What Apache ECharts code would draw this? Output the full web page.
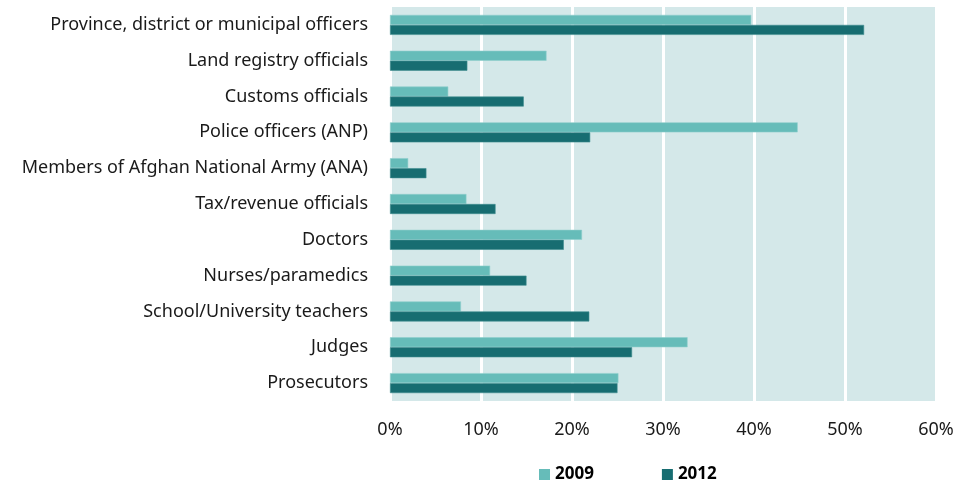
<!DOCTYPE html>
<html>
<head>
<meta charset="utf-8">
<script src="https://cdn.jsdelivr.net/npm/echarts@6/dist/echarts.min.js"></script>
<style>
  html, body { margin: 0; padding: 0; background: #fff; }
  #chart { width: 957px; height: 484px; }
</style>
</head>
<body>
<div id="chart"></div>
<script>
// categories top to bottom as in the picture
const categories = [
  'Province, district or municipal officers',
  'Land registry officials',
  'Customs officials',
  'Police officers (ANP)',
  'Members of Afghan National Army (ANA)',
  'Tax/revenue officials',
  'Doctors',
  'Nurses/paramedics',
  'School/University teachers',
  'Judges',
  'Prosecutors'
]
const values2009 = [39.7, 17.2, 6.4, 44.8, 2.0, 8.4, 21.1, 11.0, 7.8, 32.7, 25.1]
const values2012 = [52.1, 8.5, 14.7, 22.0, 4.0, 11.6, 19.1, 15.0, 21.9, 26.6, 25.0]
const xTicks = [0, 10, 20, 30, 40, 50, 60]

const font = 'Noto Sans'
const chart = echarts.init(document.getElementById('chart'))
chart.setOption({
  animation: false,
  color: ['#66bcb9', '#176d71'],
  legend: {
    top: 461,
    left: 534,
    itemWidth: 11,
    itemHeight: 11,
    itemGap: 68,
    icon: 'rect',
    itemStyle: { borderWidth: 0 },
    textStyle: { fontFamily: font, fontSize: 17, fontWeight: 'bold', color: '#000' },
    data: ['2009', '2012']
  },
  grid: { left: 390, right: 21, top: 7, bottom: 83, containLabel: false, show: true, backgroundColor: '#d4e8e9', borderWidth: 0 },
  xAxis: {
    type: 'value',
    min: xTicks[0],
    max: xTicks[xTicks.length - 1],
    interval: 10,
    axisLine: { show: false },
    axisTick: { show: false },
    splitLine: { show: true, lineStyle: { color: '#ffffff', width: 3 } },
    axisLabel: { formatter: v => v + '%', margin: 20, fontFamily: font, fontSize: 18, color: '#1a1a1a' }
  },
  yAxis: {
    type: 'category',
    inverse: true,
    data: categories,
    axisLine: { show: false },
    axisTick: { show: false },
    axisLabel: { margin: 22, fontFamily: font, fontSize: 18, color: '#1a1a1a' }
  },
  series: [
    { name: '2009', type: 'bar', data: values2009, barWidth: 10, barGap: '0%', barCategoryGap: '44%',
      itemStyle: { borderColor: '#8fcfcc', borderWidth: 0.6 } },
    { name: '2012', type: 'bar', data: values2012, barWidth: 10,
      itemStyle: { borderColor: '#3f8d90', borderWidth: 0.6 } }
  ]
})
</script>
</body>
</html>
